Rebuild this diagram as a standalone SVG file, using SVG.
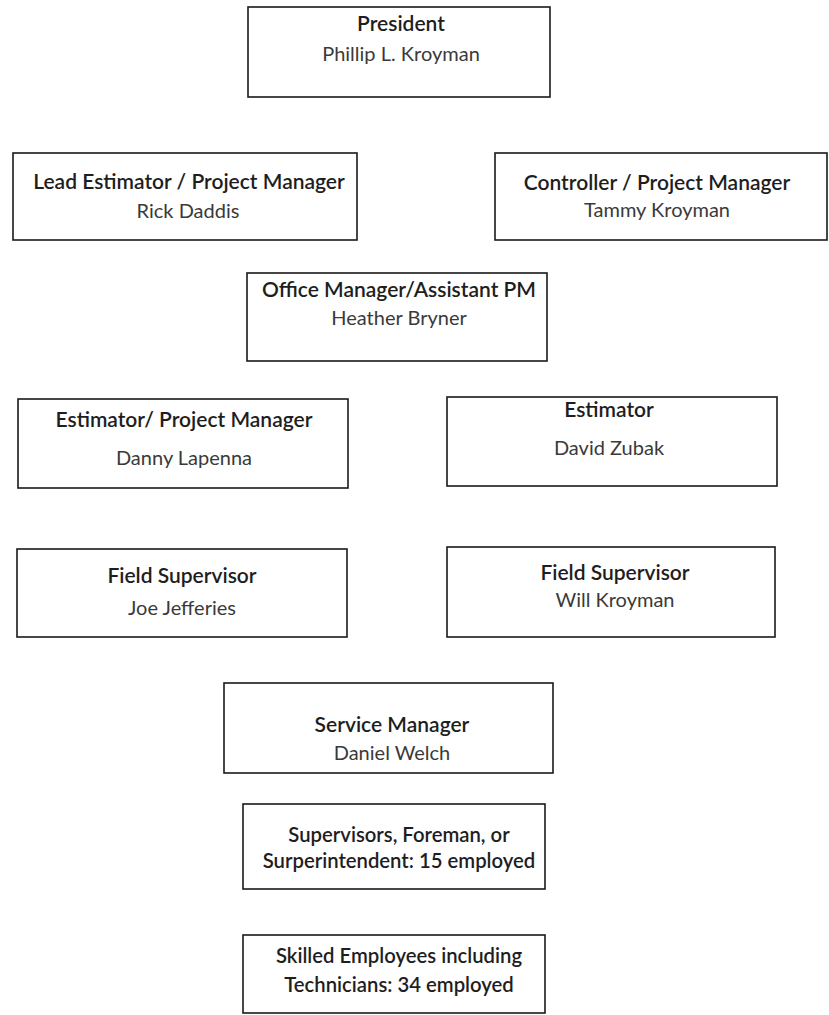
<svg xmlns="http://www.w3.org/2000/svg" width="829" height="1015" viewBox="0 0 829 1015">
<style>
.box{fill:#fff;stroke:#1a1a1a;stroke-width:1.6}
text{font-family:Lato,"Open Sans","Noto Sans",sans-serif;font-size:20px;text-anchor:middle}
.t{fill:#1e1e1e;font-weight:600;font-size:21px}
.s{font-size:20.3px}
.n{fill:#3a3a3a}
</style>
<rect width="829" height="1015" fill="#fff"/>
<g id="president"><rect class="box" x="248" y="7" width="302" height="90"/><text class="t" x="401" y="31">President</text><text class="n" x="401" y="61">Phillip L. Kroyman</text></g>
<g id="lead-estimator"><rect class="box" x="13" y="153" width="344" height="87"/><text class="t" x="189" y="189">Lead Estimator / Project Manager</text><text class="n" x="188" y="218">Rick Daddis</text></g>
<g id="controller"><rect class="box" x="495" y="153" width="332" height="87"/><text class="t" x="657" y="190">Controller / Project Manager</text><text class="n" x="657" y="217">Tammy Kroyman</text></g>
<g id="office-manager"><rect class="box" x="247" y="273" width="300" height="88"/><text class="t" x="399" y="297">Office Manager/Assistant PM</text><text class="n" x="399" y="325">Heather Bryner</text></g>
<g id="estimator-pm"><rect class="box" x="18" y="399" width="330" height="89"/><text class="t" x="184" y="427">Estimator/ Project Manager</text><text class="n" x="184" y="465">Danny Lapenna</text></g>
<g id="estimator"><rect class="box" x="447" y="397" width="330" height="89"/><text class="t" x="609" y="417">Estimator</text><text class="n" x="609" y="455">David Zubak</text></g>
<g id="field-supervisor-joe"><rect class="box" x="17" y="549" width="330" height="88"/><text class="t" x="182" y="583">Field Supervisor</text><text class="n" x="182" y="615">Joe Jefferies</text></g>
<g id="field-supervisor-will"><rect class="box" x="447" y="547" width="328" height="90"/><text class="t" x="615" y="580">Field Supervisor</text><text class="n" x="615" y="607">Will Kroyman</text></g>
<g id="service-manager"><rect class="box" x="224" y="683" width="329" height="90"/><text class="t" x="392" y="732">Service Manager</text><text class="n" x="392" y="760">Daniel Welch</text></g>
<g id="supervisors"><rect class="box" x="243" y="804" width="302" height="85"/><text class="t s" x="399" y="842">Supervisors, Foreman, or</text><text class="t s" x="399" y="868">Surperintendent: 15 employed</text></g>
<g id="skilled"><rect class="box" x="243" y="935" width="302" height="78"/><text class="t s" x="399" y="963">Skilled Employees including</text><text class="t s" x="399" y="992">Technicians: 34 employed</text></g>
</svg>
